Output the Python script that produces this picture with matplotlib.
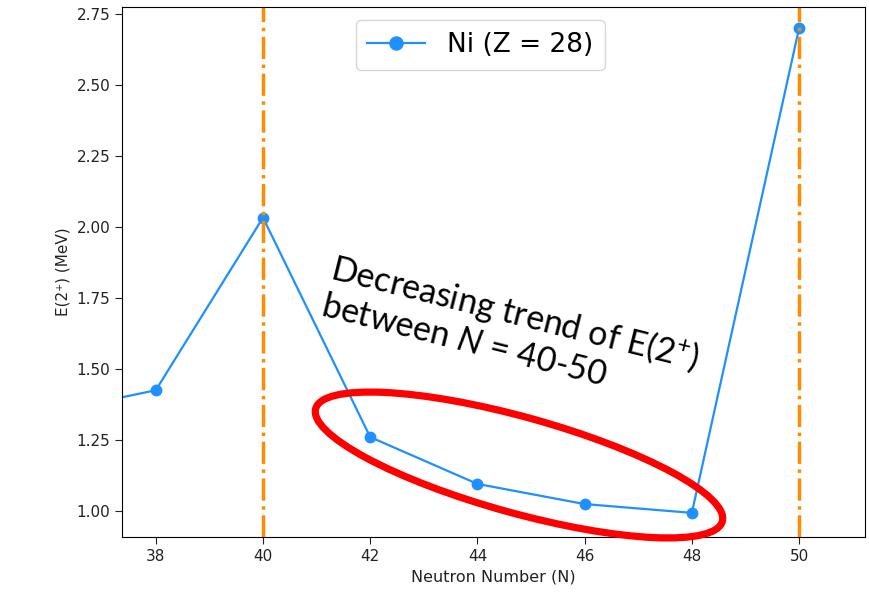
import matplotlib
matplotlib.use('Agg')
import numpy as np
import matplotlib.pyplot as plt
from matplotlib.patches import Ellipse
from matplotlib.transforms import IdentityTransform


# Ni (Z = 28) first 2+ energies
neutrons   = [36, 38, 40, 42, 44, 46, 48, 50]
e2plus     = [1.346, 1.425, 2.033, 1.260, 1.095, 1.024, 0.993, 2.700]
magic      = [40, 50]
xticks     = [38, 40, 42, 44, 46, 48, 50]
yticks     = [1.00, 1.25, 1.50, 1.75, 2.00, 2.25, 2.50, 2.75]

plt.rcParams['mathtext.fontset'] = 'custom'
plt.rcParams['mathtext.rm']      = 'Lato'
plt.rcParams['mathtext.it']      = 'Lato:italic'

W,H        = 869, 603
fig        = plt.figure(figsize=(W/100, H/100), dpi=100)
ax         = fig.add_axes([122/W, 1-537/H, (865-122)/W, (537-7)/H])

ax.plot(neutrons, e2plus, '-o', color='#1e90ff', lw=1.6, ms=7.5, label='Ni (Z = 28)')
for m in magic:
	ax.axvline(m, color='darkorange', ls='-.', lw=2.5)

ax.set_xlim(37.37, 51.23)
ax.set_ylim(0.908, 2.775)
ax.set_xticks(xticks)
ax.set_yticks(yticks)
ax.tick_params(labelsize=11, colors='#222222', length=5)
ax.set_xlabel('Neutron Number (N)', fontsize=11.5, color='#222222')
ax.set_ylabel('E(2⁺) (MeV)', fontsize=11, color='#222222')
ax.legend(loc='upper center', bbox_to_anchor=(0.482, 1.0), fontsize=19, handlelength=2.2,
          borderpad=0.45, markerscale=1.25)

# slide annotation: text + red ellipse (pixel coords)
fig.text(336/W, 1-249/H, 'Decreasing trend of E(2$^{+}$)\nbetween $N$ = 40-50',
         fontsize=24.5, family='Lato', rotation=-14, rotation_mode='anchor',
         ha='left', va='top', linespacing=1.15)
ell = Ellipse((519, H-465), 422, 96, angle=-15.5, fill=False, ec='#ff0000', lw=5.2,
              transform=IdentityTransform())
fig.patches.append(ell)

fig.savefig('out.png', dpi=100)
